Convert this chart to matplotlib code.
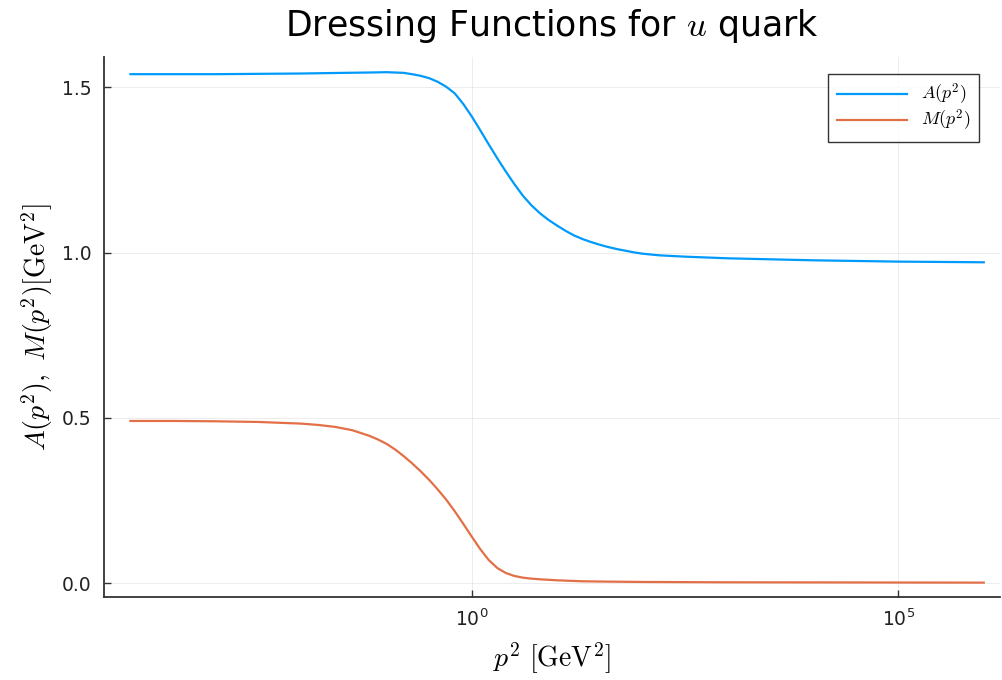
import numpy as np
import matplotlib
matplotlib.use("Agg")
import matplotlib.pyplot as plt

plt.rcParams['mathtext.fontset'] = 'cm'
plt.rcParams['font.family'] = 'DejaVu Sans'

logp2_A = [-4.0, -3.0, -2.5, -2.0, -1.5, -1.2, -1.0, -0.9, -0.8, -0.7, -0.6,
           -0.5, -0.4, -0.3, -0.2, -0.1, 0.0, 0.1, 0.2, 0.3, 0.4, 0.5, 0.6,
           0.7, 0.8, 0.9, 1.0, 1.1, 1.2, 1.3, 1.4, 1.5, 1.6, 1.7, 1.8, 1.9,
           2.0, 2.2, 2.5, 3.0, 3.5, 4.0, 4.5, 5.0, 5.5, 6.0]
A_vals = [1.540, 1.540, 1.541, 1.542, 1.544, 1.545, 1.546, 1.545, 1.544, 1.540,
          1.535, 1.528, 1.517, 1.502, 1.482, 1.450, 1.412, 1.370, 1.327, 1.285,
          1.245, 1.207, 1.172, 1.143, 1.119, 1.099, 1.082, 1.066, 1.052, 1.041,
          1.032, 1.024, 1.017, 1.011, 1.006, 1.001, 0.997, 0.992, 0.988, 0.983,
          0.980, 0.977, 0.975, 0.973, 0.972, 0.971]

logp2_M = [-4.0, -3.5, -3.0, -2.5, -2.0, -1.8, -1.6, -1.4, -1.2, -1.1, -1.0,
           -0.9, -0.8, -0.7, -0.6, -0.5, -0.4, -0.3, -0.2, -0.1, 0.0, 0.1, 0.2,
           0.3, 0.4, 0.5, 0.6, 0.7, 0.8, 1.0, 1.3, 1.6, 2.0, 3.0, 4.5, 6.0]
M_vals = [0.491, 0.491, 0.490, 0.488, 0.483, 0.479, 0.473, 0.463, 0.446, 0.435,
          0.422, 0.405, 0.385, 0.363, 0.339, 0.313, 0.284, 0.253, 0.218, 0.180,
          0.141, 0.103, 0.070, 0.046, 0.031, 0.022, 0.017, 0.014, 0.012, 0.009,
          0.006, 0.005, 0.004, 0.003, 0.0025, 0.002]

fig = plt.figure(figsize=(10.03, 6.8), dpi=100)
ax = fig.add_axes([0.1037, 0.1221, 0.8933, 0.7941])

ax.plot(10 ** np.array(logp2_A), A_vals, color='#009AFA', lw=1.6, label=r'$A(p^2)$')
ax.plot(10 ** np.array(logp2_M), M_vals, color='#E36F47', lw=1.6, label=r'$M(p^2)$')

ax.set_xscale('log')
ax.set_xlim(10 ** -4.31, 10 ** 6.19)
ax.set_ylim(-0.0414, 1.592)
ax.set_xticks([1e0, 1e5])
ax.xaxis.set_minor_locator(matplotlib.ticker.NullLocator())
ax.set_yticks([0.0, 0.5, 1.0, 1.5])
ax.set_yticklabels(['0.0', '0.5', '1.0', '1.5'])

ax.grid(True, color='black', alpha=0.07, lw=0.7)
for s in ['top', 'right']:
    ax.spines[s].set_visible(False)
for s in ['left', 'bottom']:
    ax.spines[s].set_color('#333333')
    ax.spines[s].set_linewidth(1.3)
ax.tick_params(direction='in', length=5, width=1.0, color='#333333',
               labelsize=13.5, labelcolor='#222222')
ax.tick_params(axis='y', pad=9)
ax.tick_params(axis='x', pad=8)

ax.set_title(r'Dressing Functions for $u$ quark', fontsize=25, pad=15)
ax.set_xlabel(r'$p^2\ [\mathrm{GeV}^2]$', fontsize=20, labelpad=8)
ax.set_ylabel(r'$A(p^2),\ M(p^2) [\mathrm{GeV}^2]$', fontsize=20, labelpad=5)

leg = ax.legend(loc='upper right', bbox_to_anchor=(0.9766, 0.9685), borderaxespad=0,
                fontsize=13, frameon=True, fancybox=False, handlelength=3.9,
                labelspacing=0.05, borderpad=0.45)
leg.get_frame().set_edgecolor('black')
leg.get_frame().set_linewidth(1.0)

fig.savefig('out.png', dpi=100)
